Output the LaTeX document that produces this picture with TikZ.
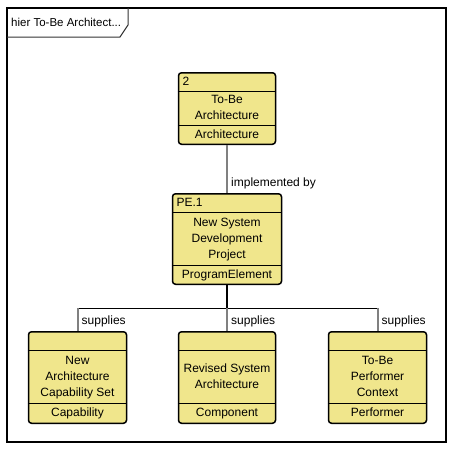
\documentclass[tikz,border=0pt]{standalone}
\usepackage{fontspec}
\setmainfont{Liberation Sans}
\usepackage{tikz}
\usetikzlibrary{shapes.multipart,positioning}

\definecolor{elemfill}{RGB}{240,230,140}
\definecolor{linkgray}{RGB}{128,128,128}

\tikzset{
  elem/.style = {rectangle split, rectangle split parts=3,
    rectangle split draw splits=false, draw, line width=1.5pt,
    rounded corners=3pt, fill=elemfill, inner sep=0pt},
  split/.style = {line width=1pt},
  link/.style = {line width=2pt, linkgray},
  spine/.style = {line width=2pt, black},
  bus/.style = {line width=1pt, black},
  lbl/.style = {right, inner sep=4pt}
}
\newcommand{\hdr}[2]{\parbox[c][17pt][c]{#1}{\hspace*{4pt}\strut#2}}
\newcommand{\bdy}[3]{\parbox[c][#2][c]{#1}{\centering\strut #3\strut}}

\begin{document}
\begin{tikzpicture}[x=1pt, y=-1pt, font=\fontsize{12}{16}\selectfont]
\useasboundingbox (0,0) rectangle (455,450);
% frame and title tab
\draw [line width=2pt] (7,8) rectangle (446,442);
\draw [line width=1pt, black!80] (7,37) -- (120,37) -- (128,25) -- (128,8);
\node [right, inner sep=4pt, font=\fontsize{11.5}{14}\selectfont] (title) at (7,22) {hier To-Be Architect...};

% elements
\node [elem] (arch) at (227,108.5) {\hdr{97pt}{2}
  \nodepart{two}\bdy{97pt}{33pt}{To-Be\\Architecture}
  \nodepart{three}\bdy{97pt}{17pt}{Architecture}};
\node [elem] (proj) at (227,239) {\hdr{109pt}{PE.1}
  \nodepart{two}\bdy{109pt}{52pt}{New System\\Development\\Project}
  \nodepart{three}\bdy{109pt}{17pt}{ProgramElement}};
\node [elem] (cap) at (77.5,377.5) {\hdr{98pt}{}
  \nodepart{two}\bdy{98pt}{52pt}{New\\Architecture\\Capability Set}
  \nodepart{three}\bdy{98pt}{18pt}{Capability}};
\node [elem] (comp) at (227,377.5) {\hdr{97pt}{}
  \nodepart{two}\bdy{97pt}{52pt}{Revised System\\Architecture}
  \nodepart{three}\bdy{97pt}{18pt}{Component}};
\node [elem] (perf) at (377.5,377.5) {\hdr{98pt}{}
  \nodepart{two}\bdy{98pt}{52pt}{To-Be\\Performer\\Context}
  \nodepart{three}\bdy{98pt}{18pt}{Performer}};

% compartment lines
\foreach \n in {arch,proj,cap,comp,perf} {
  \draw [split] (\n.text split west) -- (\n.text split east);
  \draw [split] (\n.two split west) -- (\n.two split east);
}

% links
\draw [link] (arch.south) -- (proj.north);
\node [lbl] (impl) at (227,183) {implemented by};
\coordinate (hub) at (227,308);
\draw [spine] (proj.south) -- (hub);
\draw [bus] (cap.north |- hub) -- (perf.north |- hub);
\foreach \n in {cap,comp,perf}
  \draw [link] (\n.north |- hub) -- (\n.north);
\node [lbl] (sup1) at (77.5,321) {supplies};
\node [lbl] (sup2) at (227,321) {supplies};
\node [lbl] (sup3) at (377.5,321) {supplies};
\end{tikzpicture}
\end{document}
